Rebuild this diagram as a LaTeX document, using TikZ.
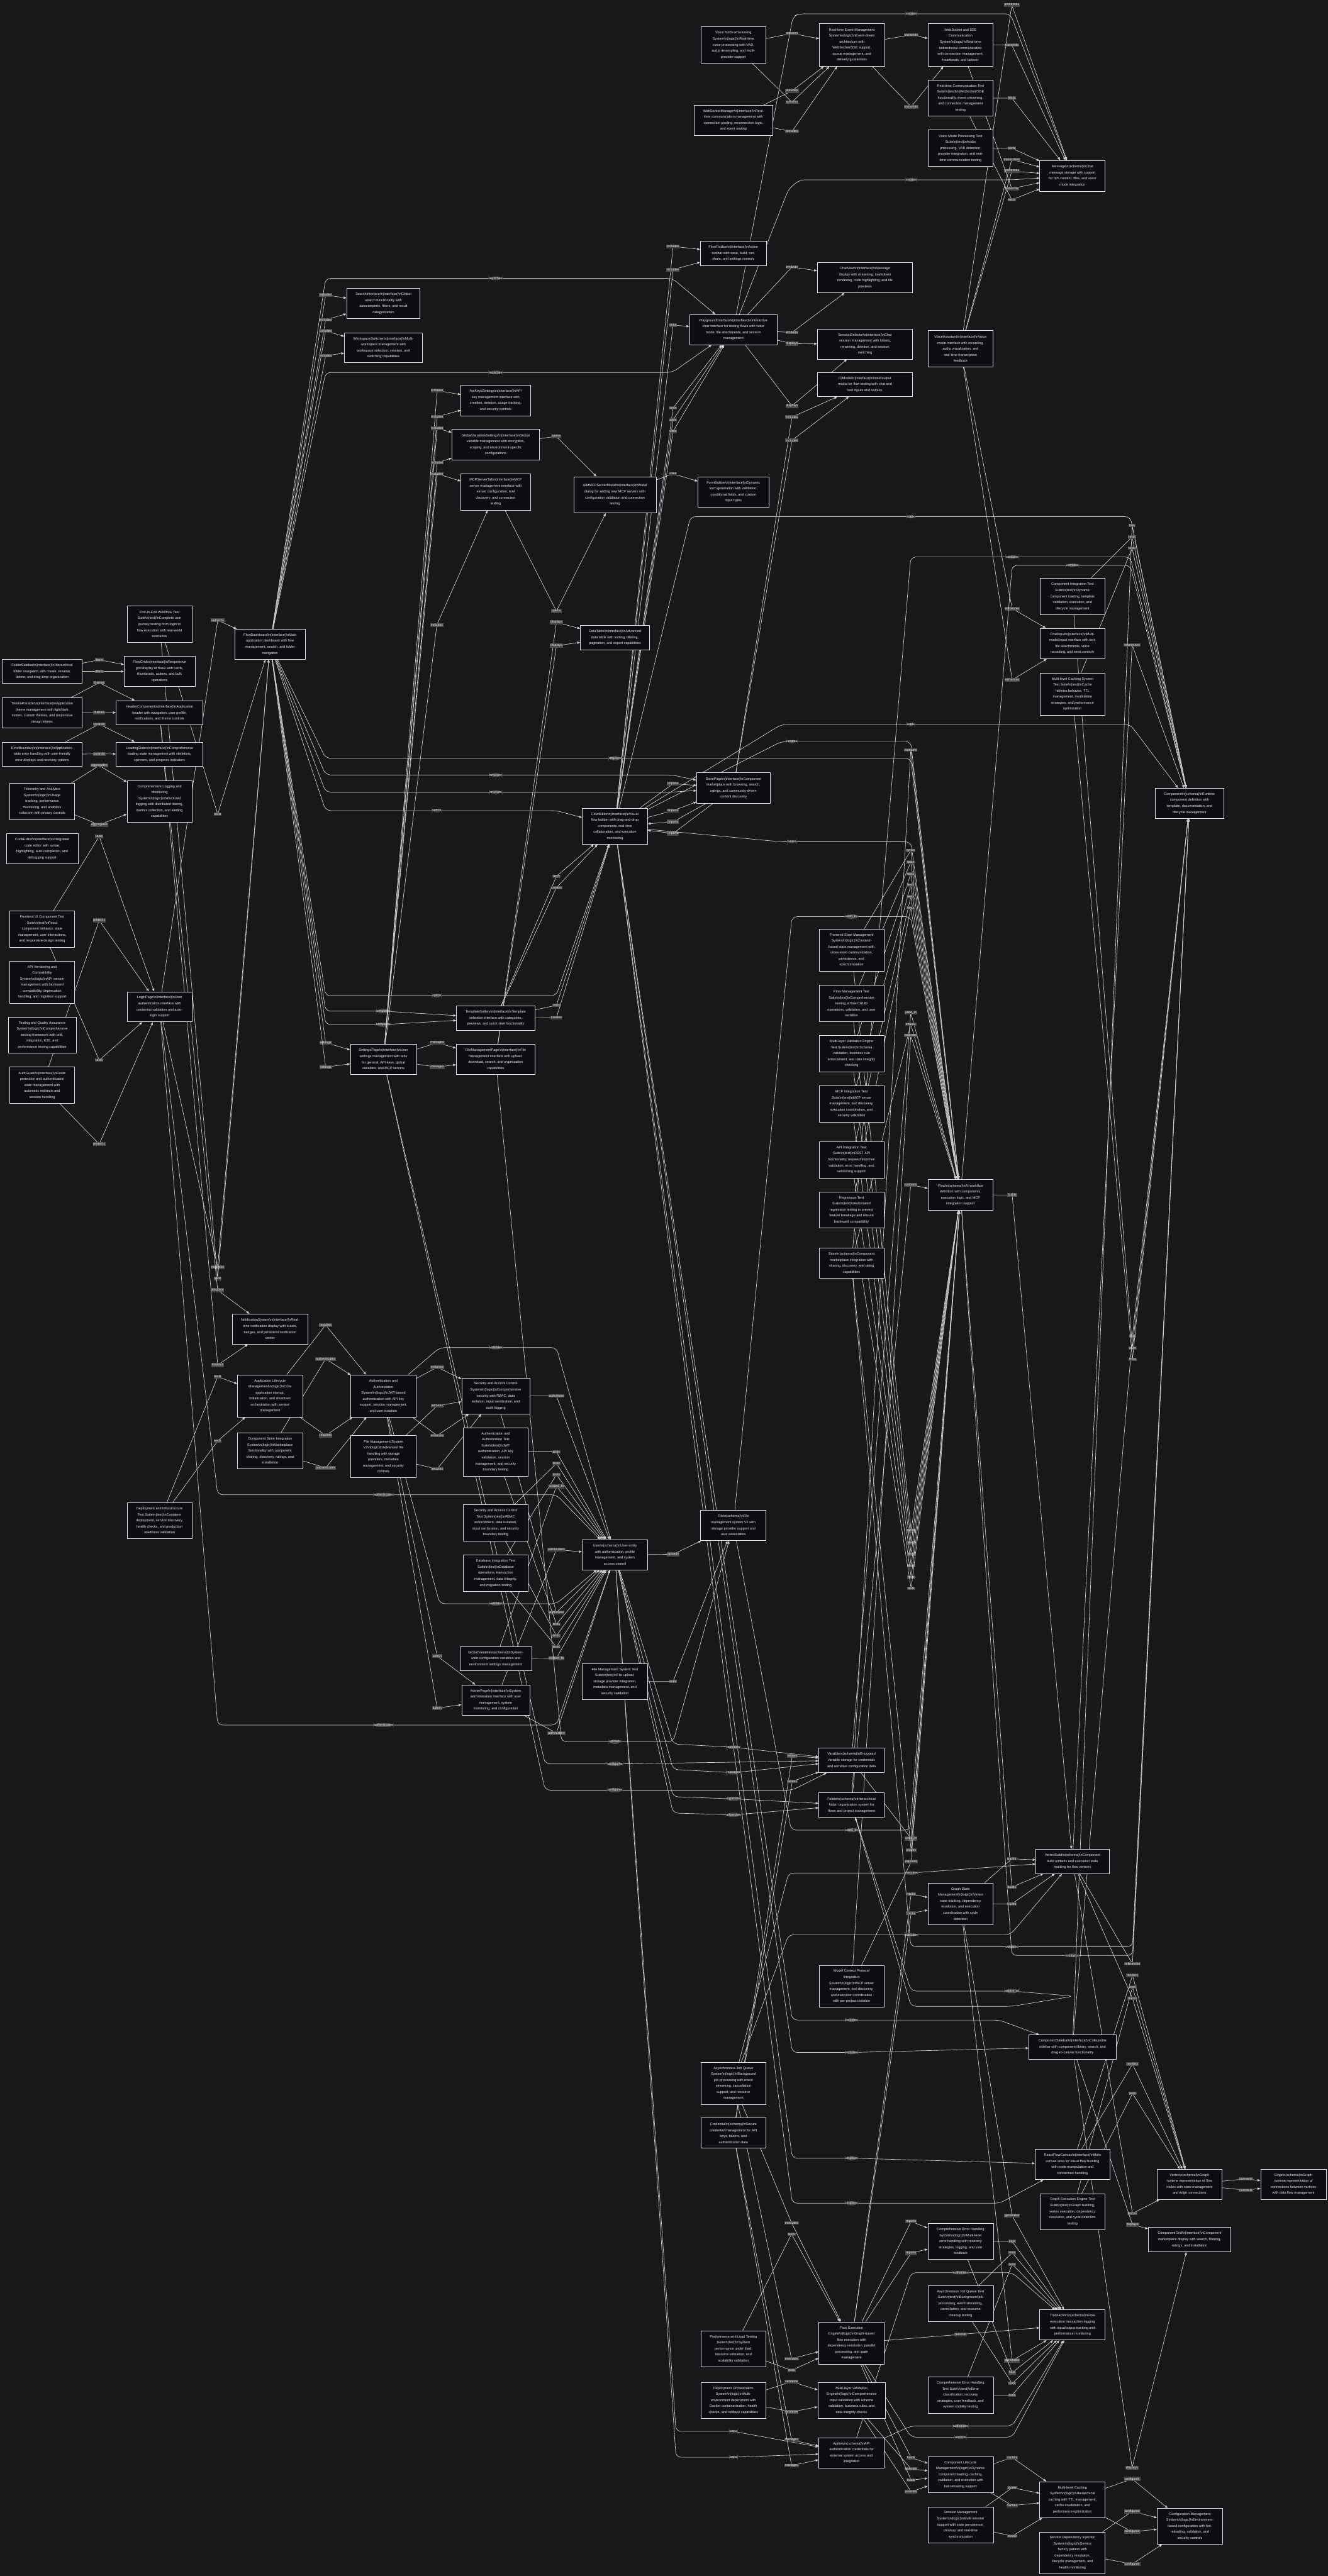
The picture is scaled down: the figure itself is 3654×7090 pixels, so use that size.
\documentclass[tikz,border=0pt]{standalone}
\usepackage{fontspec}
\setmainfont{Liberation Sans}
\usepackage{tikz}
\usetikzlibrary{arrows.meta,calc}

\definecolor{bgcol}{RGB}{24,24,27}
\definecolor{boxfill}{RGB}{12,12,18}
\definecolor{boxline}{RGB}{225,225,225}
\definecolor{boxtext}{RGB}{240,240,240}
\definecolor{linecol}{RGB}{205,205,205}
\definecolor{lblbg}{RGB}{74,74,74}
\definecolor{lbltext}{RGB}{235,235,235}

\newcommand{\bsn}{\textbackslash n}
\newcommand{\boxfont}{\fontsize{9.5}{16.5}\selectfont}
\newcommand{\lblfont}{\fontsize{9}{10}\selectfont}
% edge with its label at a given point
\newcommand{\conn}[4]{\draw[arr] (#1) -- (#3) node[lbl] {#2} -- (#4);}

\pgfdeclarelayer{bg}
\pgfdeclarelayer{edgelayer}
\pgfsetlayers{bg,edgelayer,main}

\begin{document}
\begin{tikzpicture}[x=1pt, y=-1pt,
  box/.style={draw=boxline, line width=1.3pt, fill=boxfill, text=boxtext, align=center, font=\boxfont, inner sep=4pt},
  sz/.style 2 args={minimum width=#1pt, minimum height=#2pt},
  arr/.style={draw=linecol, line width=1.2pt, -{Triangle[length=8pt,width=6.5pt]}},
  rc/.style={rounded corners=14pt},
  lbl/.style={fill=lblbg, text=lbltext, font=\lblfont, inner sep=1.6pt}]

\useasboundingbox (0,0) rectangle (3654,7090);
\begin{pgfonlayer}{bg}
  \fill[bgcol] (0,0) rectangle (3654,7090);
\end{pgfonlayer}

% ---- realtime / voice
\node[box, sz={178}{100}] (voice) at (2018,124) {Voice Mode Processing\\System\bsn(logic)\bsn{}Real-time\\voice processing with VAD,\\audio resampling, and multi-\\provider support};
\node[box, sz={179}{117}] (rtevent) at (2344,124) {Real-time Event Management\\System\bsn(logic)\bsn{}Event-driven\\architecture with\\WebSocket/SSE support,\\queue management, and\\delivery guarantees};
\node[box, sz={179}{117}] (wssse) at (2643,124) {WebSocket and SSE\\Communication\\System\bsn(logic)\bsn{}Real-time\\bidirectional communication\\with connection management,\\heartbeats, and failover};
\node[box, sz={179}{100}] (rtcomtest) at (2643,270) {Real-time Communication Test\\Suite\bsn(test)\bsn{}WebSocket/SSE\\functionality, event streaming,\\and connection management\\testing};
\node[box, sz={179}{100}] (voicetest) at (2643,408) {Voice Mode Processing Test\\Suite\bsn(test)\bsn{}Audio\\processing, VAD detection,\\provider integration, and real-\\time communication testing};
\node[box, sz={215}{83}] (wsmgr) at (2018,331) {WebSocketManager\bsn(interface)\bsn{}Real-\\time communication management with\\connection pooling, reconnection logic,\\and event routing};
\node[box, sz={180}{85}] (message) at (2951,484) {Message\bsn(schema)\bsn{}Chat\\message storage with support\\for rich content, files, and voice\\mode integration};

% ---- upper interface column
\node[box, sz={182}{67}] (flowtoolbar) at (2018,697) {FlowToolbar\bsn(interface)\bsn{}Action\\toolbar with save, build, run,\\share, and settings controls};
\node[box, sz={241}{83}] (playground) at (2018,907) {PlaygroundInterface\bsn(interface)\bsn{}Interactive\\chat interface for testing flows with voice\\mode, file attachments, and session\\management};
\node[box, sz={262}{83}] (chatview) at (2380,764) {ChatView\bsn(interface)\bsn{}Message\\display with streaming, markdown\\rendering, code highlighting, and file\\previews};
\node[box, sz={262}{83}] (sessionsel) at (2380,947) {SessionSelector\bsn(interface)\bsn{}Chat\\session management with history,\\renaming, deletion, and session\\switching};
\node[box, sz={262}{67}] (iomodal) at (2380,1058) {IOModal\bsn(interface)\bsn{}Input/output\\modal for flow testing with chat and\\text inputs and outputs};
\node[box, sz={179}{100}] (voiceassist) at (2643,960) {VoiceAssistant\bsn(interface)\bsn{}Voice\\mode interface with recording,\\audio visualization, and\\real-time transcription\\feedback};
\node[box, sz={202}{83}] (search) at (1055,835) {SearchInterface\bsn(interface)\bsn{}Global\\search functionality with\\autocomplete, filters, and result\\categorization};
\node[box, sz={214}{83}] (workspace) at (1055,957) {WorkspaceSwitcher\bsn(interface)\bsn{}Multi-\\workspace management with\\workspace selection, creation, and\\switching capabilities};
\node[box, sz={191}{84}] (apikeys) at (1364,1102) {ApiKeysSettings\bsn(interface)\bsn{}API\\key management interface with\\creation, deletion, usage tracking,\\and security controls};
\node[box, sz={241}{84}] (globalvars) at (1364,1224) {GlobalVariablesSettings\bsn(interface)\bsn{}Global\\variable management with encryption,\\scoping, and environment-specific\\configurations};
\node[box, sz={191}{100}] (mcptab) at (1364,1354) {MCPServerTab\bsn(interface)\bsn{}MCP\\server management interface with\\server configuration, tool\\discovery, and connection\\testing};
\node[box, sz={227}{100}] (addmcp) at (1692,1362) {AddMCPServerModal\bsn(interface)\bsn{}Modal\\dialog for adding new MCP servers with\\configuration validation and connection\\testing};
\node[box, sz={195}{83}] (formbuilder) at (2018,1354) {FormBuilder\bsn(interface)\bsn{}Dynamic\\form generation with validation,\\conditional fields, and custom\\input types};

% ---- left columns
\node[box, sz={179}{100}] (e2etest) at (439,1718) {End-to-End Workflow Test\\Suite\bsn(test)\bsn{}Complete user\\journey testing from login to\\flow execution with real-world\\scenarios};
\node[box, sz={220}{66}] (foldersidebar) at (116,1848) {FolderSidebar\bsn(interface)\bsn{}Hierarchical\\folder navigation with create, rename,\\delete, and drag-drop organization};
\node[box, sz={195}{83}] (flowgrid) at (439,1848) {FlowGrid\bsn(interface)\bsn{}Responsive\\grid display of flows with cards,\\thumbnails, actions, and bulk\\operations};
\node[box, sz={221}{83}] (themeprovider) at (116,1962) {ThemeProvider\bsn(interface)\bsn{}Application\\theme management with light/dark\\modes, custom themes, and responsive\\design tokens};
\node[box, sz={239}{67}] (header) at (439,1962) {HeaderComponent\bsn(interface)\bsn{}Application\\header with navigation, user profile,\\notifications, and theme controls};
\node[box, sz={219}{67}] (errorboundary) at (116,2076) {ErrorBoundary\bsn(interface)\bsn{}Application-\\wide error handling with user-friendly\\error displays and recovery options};
\node[box, sz={239}{67}] (loading) at (439,2076) {LoadingStates\bsn(interface)\bsn{}Comprehensive\\loading state management with skeletons,\\spinners, and progress indicators};
\node[box, sz={179}{100}] (telemetry) at (116,2206) {Telemetry and Analytics\\System\bsn(logic)\bsn{}Usage\\tracking, performance\\monitoring, and analytics\\collection with privacy controls};
\node[box, sz={179}{115}] (logging) at (439,2206) {Comprehensive Logging and\\Monitoring\\System\bsn(logic)\bsn{}Structured\\logging with distributed tracing,\\metrics collection, and alerting\\capabilities};
\node[box, sz={197}{83}] (codeeditor) at (116,2336) {CodeEditor\bsn(interface)\bsn{}Integrated\\code editor with syntax\\highlighting, auto-completion, and\\debugging support};
\node[box, sz={179}{100}] (frontendtest) at (116,2557) {Frontend UI Component Test\\Suite\bsn(test)\bsn{}React\\component behavior, state\\management, user interactions,\\and responsive design testing};
\node[box, sz={179}{116}] (apiversion) at (116,2703) {API Versioning and\\Compatibility\\System\bsn(logic)\bsn{}API version\\management with backward\\compatibility, deprecation\\handling, and migration support};
\node[box, sz={187}{100}] (testingqa) at (116,2849) {Testing and Quality Assurance\\System\bsn(logic)\bsn{}Comprehensive\\testing framework with unit,\\integration, E2E, and\\performance testing capabilities};
\node[box, sz={179}{100}] (authguard) at (116,2987) {AuthGuard\bsn(interface)\bsn{}Route\\protection and authentication\\state management with\\automatic redirects and\\session handling};
\node[box, sz={179}{83}] (login) at (439,2771) {LoginPage\bsn(interface)\bsn{}User\\authentication interface with\\credential validation and auto-\\login support};
\node[box, sz={193}{83}] (dashboard) at (743,1773) {FlowDashboard\bsn(interface)\bsn{}Main\\application dashboard with flow\\management, search, and folder\\navigation};

% ---- editor / pages
\node[box, sz={190}{68}] (datatable) at (1692,1755) {DataTable\bsn(interface)\bsn{}Advanced\\data table with sorting, filtering,\\pagination, and export capabilities};
\node[box, sz={202}{84}] (storepage) at (2018,2169) {StorePage\bsn(interface)\bsn{}Component\\marketplace with browsing, search,\\ratings, and community-driven\\content discovery};
\node[box, sz={179}{99}] (floweditor) at (1692,2274) {FlowEditor\bsn(interface)\bsn{}Visual\\flow builder with drag-and-drop\\components, real-time\\collaboration, and execution\\monitoring};
\node[box, sz={216}{67}] (templategallery) at (1364,2802) {TemplateGallery\bsn(interface)\bsn{}Template\\selection interface with categories,\\previews, and quick start functionality};
\node[box, sz={182}{83}] (settingspage) at (1055,2916) {SettingsPage\bsn(interface)\bsn{}User\\settings management with tabs\\for general, API keys, global\\variables, and MCP servers};
\node[box, sz={217}{83}] (filemgmtpage) at (1364,2916) {FileManagementPage\bsn(interface)\bsn{}File\\management interface with upload,\\download, search, and organization\\capabilities};

% ---- security / lifecycle
\node[box, sz={207}{83}] (notification) at (743,3658) {NotificationSystem\bsn(interface)\bsn{}Real-\\time notification display with toasts,\\badges, and persistent notification\\center};
\node[box, sz={179}{116}] (applifecycle) at (743,3842) {Application Lifecycle\\Management\bsn(logic)\bsn{}Core\\application startup,\\initialization, and shutdown\\orchestration with service\\management};
\node[box, sz={179}{116}] (authsys) at (1055,3842) {Authentication and\\Authorization\\System\bsn(logic)\bsn{}JWT-based\\authentication with API key\\support, session management,\\and user isolation};
\node[box, sz={187}{99}] (security) at (1364,3842) {Security and Access Control\\System\bsn(logic)\bsn{}Comprehensive\\security with RBAC, data\\isolation, input sanitization, and\\audit logging};
\node[box, sz={179}{100}] (componentstore) at (743,3993) {Component Store Integration\\System\bsn(logic)\bsn{}Marketplace\\functionality with component\\sharing, discovery, ratings, and\\installation};
\node[box, sz={179}{116}] (filemgmtsys) at (1055,4009) {File Management System\\V2\bsn(logic)\bsn{}Advanced file\\handling with storage\\providers, metadata\\management, and security\\controls};
\node[box, sz={179}{133}] (authtest) at (1364,3996) {Authentication and\\Authorization Test\\Suite\bsn(test)\bsn{}JWT\\authentication, API key\\validation, session\\management, and security\\boundary testing};
\node[box, sz={179}{100}] (deploytest) at (439,4185) {Deployment and Infrastructure\\Test Suite\bsn(test)\bsn{}Container\\deployment, service discovery,\\health checks, and production\\readiness validation};
\node[box, sz={179}{100}] (securitytest) at (1364,4191) {Security and Access Control\\Test Suite\bsn(test)\bsn{}RBAC\\enforcement, data isolation,\\input sanitization, and security\\boundary testing};
\node[box, sz={179}{100}] (dbtest) at (1364,4330) {Database Integration Test\\Suite\bsn(test)\bsn{}Database\\operations, transaction\\management, data integrity,\\and migration testing};
\node[box, sz={197}{67}] (globalvariable) at (1364,4565) {GlobalVariable\bsn(schema)\bsn{}System-\\wide configuration variables and\\environment settings management};
\node[box, sz={187}{83}] (adminpage) at (1364,4679) {AdminPage\bsn(interface)\bsn{}System\\administration interface with user\\management, system\\monitoring, and configuration};
\node[box, sz={180}{83}] (user) at (1692,4279) {User\bsn(schema)\bsn{}User entity\\with authentication, profile\\management, and system\\access control};
\node[box, sz={180}{84}] (file) at (2018,4198) {File\bsn(schema)\bsn{}File\\management system V2 with\\storage provider support and\\user association};
\node[box, sz={180}{99}] (filetest) at (1692,4628) {File Management System Test\\Suite\bsn(test)\bsn{}File upload,\\storage provider integration,\\metadata management, and\\security validation};
\node[box, sz={180}{67}] (variable) at (2343,4845) {Variable\bsn(schema)\bsn{}Encrypted\\variable storage for credentials\\and sensitive configuration data};
\node[box, sz={180}{67}] (folder) at (2343,4968) {Folder\bsn(schema)\bsn{}Hierarchical\\folder organization system for\\flows and project management};

% ---- component / flow column
\node[box, sz={179}{100}] (comptest) at (2951,1642) {Component Integration Test\\Suite\bsn(test)\bsn{}Dynamic\\component loading, template\\validation, execution, and\\lifecycle management};
\node[box, sz={179}{84}] (chatinput) at (2951,1771) {ChatInput\bsn(interface)\bsn{}Multi-\\modal input interface with text,\\file attachments, voice\\recording, and send controls};
\node[box, sz={179}{116}] (cachetest) at (2951,1910) {Multi-level Caching System\\Test Suite\bsn(test)\bsn{}Cache\\hit/miss behavior, TTL\\management, invalidation\\strategies, and performance\\optimization};
\node[box, sz={187}{83}] (component) at (3273,2211) {Component\bsn(schema)\bsn{}Runtime\\component definition with\\template, documentation, and\\lifecycle management};
\node[box, sz={179}{116}] (statemgmt) at (2343,2615) {Frontend State Management\\System\bsn(logic)\bsn{}Zustand-\\based state management with\\cross-store communication,\\persistence, and\\synchronization};
\node[box, sz={179}{100}] (flowmgmttest) at (2343,2762) {Flow Management Test\\Suite\bsn(test)\bsn{}Comprehensive\\testing of flow CRUD\\operations, validation, and user\\isolation};
\node[box, sz={179}{100}] (validtest) at (2343,2900) {Multi-layer Validation Engine\\Test Suite\bsn(test)\bsn{}Schema\\validation, business rule\\enforcement, and data integrity\\checking};
\node[box, sz={179}{100}] (mcptest) at (2343,3038) {MCP Integration Test\\Suite\bsn(test)\bsn{}MCP server\\management, tool discovery,\\execution coordination, and\\security validation};
\node[box, sz={179}{100}] (apitest) at (2343,3192) {API Integration Test\\Suite\bsn(test)\bsn{}REST API\\functionality, request/response\\validation, error handling, and\\versioning support};
\node[box, sz={179}{100}] (regtest) at (2343,3330) {Regression Test\\Suite\bsn(test)\bsn{}Automated\\regression testing to prevent\\feature breakage and ensure\\backward compatibility};
\node[box, sz={179}{83}] (store) at (2343,3477) {Store\bsn(schema)\bsn{}Component\\marketplace integration with\\sharing, discovery, and rating\\capabilities};
\node[box, sz={179}{85}] (flow) at (2643,3289) {Flow\bsn(schema)\bsn{}AI workflow\\definition with components,\\execution logic, and MCP\\integration support};

% ---- graph / execution
\node[box, sz={202}{67}] (vertexbuild) at (2951,5123) {VertexBuild\bsn(schema)\bsn{}Component\\build artifacts and execution state\\tracking for flow vertices};
\node[box, sz={179}{115}] (graphstate) at (2643,5240) {Graph State\\Management\bsn(logic)\bsn{}Vertex\\state tracking, dependency\\resolution, and execution\\coordination with cycle\\detection};
\node[box, sz={179}{114}] (mcpsys) at (2343,5467) {Model Context Protocol\\Integration\\System\bsn(logic)\bsn{}MCP server\\management, tool discovery,\\and execution coordination\\with per-project isolation};
\node[box, sz={240}{66}] (compsidebar) at (2951,5634) {ComponentSidebar\bsn(interface)\bsn{}Collapsible\\sidebar with component library, search, and\\drag-to-canvas functionality};
\node[box, sz={205}{84}] (reactflow) at (2951,5957) {ReactFlowCanvas\bsn(interface)\bsn{}Main\\canvas area for visual flow building\\with node manipulation and\\connection handling};
\node[box, sz={179}{83}] (vertex) at (3273,6012) {Vertex\bsn(schema)\bsn{}Graph\\runtime representation of flow\\nodes with state management\\and edge connections};
\node[box, sz={180}{83}] (edge) at (3559,6012) {Edge\bsn(schema)\bsn{}Graph\\runtime representation of\\connections between vertices\\with data flow management};
\node[box, sz={179}{99}] (graphtest) at (2951,6087) {Graph Execution Engine Test\\Suite\bsn(test)\bsn{}Graph building,\\vertex execution, dependency\\resolution, and cycle detection\\testing};
\node[box, sz={227}{67}] (compgrid) at (3273,6164) {ComponentGrid\bsn(interface)\bsn{}Component\\marketplace display with search, filtering,\\ratings, and installation};
\node[box, sz={179}{116}] (asyncjob) at (2018,5734) {Asynchronous Job Queue\\System\bsn(logic)\bsn{}Background\\job processing with event\\streaming, cancellation\\support, and resource\\management};
\node[box, sz={179}{83}] (credential) at (2018,5871) {Credential\bsn(schema)\bsn{}Secure\\credential management for API\\keys, tokens, and\\authentication data};
\node[box, sz={180}{100}] (errhandling) at (2643,6169) {Comprehensive Error Handling\\System\bsn(logic)\bsn{}Multi-level\\error handling with recovery\\strategies, logging, and user\\feedback};
\node[box, sz={180}{99}] (asyncjobtest) at (2643,6340) {Asynchronous Job Queue Test\\Suite\bsn(test)\bsn{}Background job\\processing, event streaming,\\cancellation, and resource\\cleanup testing};
\node[box, sz={180}{83}] (transaction) at (2951,6399) {Transaction\bsn(schema)\bsn{}Flow\\execution transaction logging\\with input/output tracking and\\performance monitoring};
\node[box, sz={179}{100}] (perftest) at (2018,6465) {Performance and Load Testing\\Suite\bsn(test)\bsn{}System\\performance under load,\\resource utilization, and\\scalability validation};
\node[box, sz={180}{117}] (flowexec) at (2343,6449) {Flow Execution\\Engine\bsn(logic)\bsn{}Graph-based\\flow execution with\\dependency resolution, parallel\\processing, and state\\management};
\node[box, sz={180}{100}] (errtest) at (2643,6592) {Comprehensive Error Handling\\Test Suite\bsn(test)\bsn{}Error\\classification, recovery\\strategies, user feedback, and\\system stability testing};
\node[box, sz={179}{99}] (deployorch) at (2018,6607) {Deployment Orchestration\\System\bsn(logic)\bsn{}Multi-\\environment deployment with\\Docker containerization, health\\checks, and rollback capabilities};
\node[box, sz={185}{99}] (validengine) at (2343,6607) {Multi-layer Validation\\Engine\bsn(logic)\bsn{}Comprehensive\\input validation with schema\\validation, business rules, and\\data integrity checks};
\node[box, sz={180}{83}] (apikey) at (2343,6751) {ApiKey\bsn(schema)\bsn{}API\\authentication credentials for\\external system access and\\integration};
\node[box, sz={180}{99}] (complifecycle) at (2643,6811) {Component Lifecycle\\Management\bsn(logic)\bsn{}Dynamic\\component loading, caching,\\validation, and execution with\\hot-reloading support};
\node[box, sz={180}{99}] (caching) at (2951,6880) {Multi-level Caching\\System\bsn(logic)\bsn{}Hierarchical\\caching with TTL management,\\cache invalidation, and\\performance optimization};
\node[box, sz={180}{99}] (session) at (2643,6949) {Session Management\\System\bsn(logic)\bsn{}Multi-session\\support with state persistence,\\cleanup, and real-time\\synchronization};
\node[box, sz={180}{114}] (servicedi) at (2951,7026) {Service Dependency Injection\\System\bsn(logic)\bsn{}Service\\factory pattern with\\dependency resolution,\\lifecycle management, and\\health monitoring};
\node[box, sz={180}{99}] (config) at (3274,6953) {Configuration Management\\System\bsn(logic)\bsn{}Environment-\\based configuration with hot-\\reloading, validation, and\\security controls};

\begin{pgfonlayer}{edgelayer}
% left side
\conn{foldersidebar}{filters}{273,1816}{flowgrid}
\conn{foldersidebar}{filters}{273,1848}{flowgrid}
\conn{themeprovider}{themes}{273,1879}{header}
\conn{themeprovider}{themes}{273,1961}{header}
\conn{errorboundary}{controls}{273,1993}{loading}
\conn{errorboundary}{controls}{273,2075}{loading}
\conn{telemetry}{aggregates}{273,2107}{logging}
\conn{telemetry}{aggregates}{273,2270}{logging}
\conn{frontendtest}{tests}{273,2302}{login}
\conn{authguard}{protects}{273,2533}{login}
\conn{frontendtest}{tests}{273,2918}{login}
\conn{authguard}{protects}{273,3149}{login}
\conn{login}{redirects}{599,1707}{dashboard}
\conn{e2etest}{tests}{599,2241}{dashboard}
\conn{login}{redirects}{599,3488}{dashboard}
\conn{e2etest}{tests}{599,3519}{dashboard}
\conn{header}{displays}{599,3551}{notification}
\conn{header}{displays}{599,3757}{notification}
\conn{deploytest}{tests}{599,3789}{applifecycle}
\conn{deploytest}{tests}{599,3966}{applifecycle}

% dashboard
\conn{dashboard}{includes}{896,812}{search}
\conn{dashboard}{includes}{896,880}{search}
\conn{dashboard}{includes}{896,911}{workspace}
\conn{dashboard}{includes}{896,979}{workspace}
\draw[arr, rc] (dashboard) -- (896,766) -- (1364,766) node[lbl] {launches} -- (1850,766) -- (playground);
\draw[arr, rc] (dashboard) -- (896,1025) -- (1364,1025) node[lbl] {launches} -- (1850,1025) -- (playground);
\draw[arr, rc] (dashboard) -- (896,2087) -- (1692,2087) node[lbl] {displays} -- (2506,2087) -- (flow);
\draw[arr, rc] (dashboard) -- (896,2133) -- (1364,2133) node[lbl] {browses} -- (1850,2133) -- (storepage);
\draw[arr, rc] (dashboard) -- (896,2180) -- (1364,2180) node[lbl] {browses} -- (1850,2180) -- (storepage);
\draw[arr, rc] (dashboard) -- (896,2231) -- (1202,2231) node[lbl] {opens} -- (1530,2231) -- (floweditor);
\draw[arr, rc] (dashboard) -- (896,2741) -- (1202,2741) node[lbl] {opens} -- (1530,2741) -- (floweditor);
\draw[arr, rc] (dashboard) -- (896,2783) -- (1055,2783) node[lbl] {templates} -- (templategallery);
\draw[arr, rc] (dashboard) -- (896,2820) -- (1055,2820) node[lbl] {templates} -- (templategallery);
\conn{dashboard}{settings}{896,2870}{settingspage}
\conn{dashboard}{settings}{896,2937}{settingspage}

% settings and editor
\conn{authsys}{admin}{1203,4558}{adminpage}
\conn{authsys}{admin}{1203,4701}{adminpage}
\conn{settingspage}{manages}{1203,2870}{filemgmtpage}
\conn{settingspage}{manages}{1203,2937}{filemgmtpage}
\conn{settingspage}{includes}{1203,1075}{apikeys}
\conn{settingspage}{includes}{1203,1147}{apikeys}
\conn{settingspage}{includes}{1203,1179}{globalvars}
\conn{settingspage}{includes}{1203,1273}{globalvars}
\conn{settingspage}{includes}{1203,1304}{mcptab}
\conn{settingspage}{includes}{1202,1720}{mcptab}
\conn{globalvars}{opens}{1530,1201}{addmcp}
\conn{mcptab}{opens}{1531,1682}{addmcp}
\conn{addmcp}{uses}{1852,1304}{formbuilder}
\conn{filemgmtpage}{displays}{1531,1713}{datatable}
\conn{filemgmtpage}{displays}{1531,1777}{datatable}
\conn{templategallery}{uses}{1531,2412}{floweditor}
\conn{templategallery}{creates}{1531,2443}{floweditor}
\conn{templategallery}{uses}{1531,2767}{floweditor}
\conn{templategallery}{creates}{1531,2801}{floweditor}
\conn{floweditor}{includes}{1852,678}{flowtoolbar}
\conn{floweditor}{includes}{1852,742}{flowtoolbar}
\conn{floweditor}{tests}{1852,895}{playground}
\conn{floweditor}{tests}{1852,1123}{playground}
\conn{floweditor}{edits}{1852,1155}{playground}
\conn{floweditor}{edits}{1852,1187}{playground}
\conn{storepage}{includes}{2179,1148}{iomodal}
\conn{storepage}{includes}{2179,1212}{iomodal}
\conn{floweditor}{imports}{1852,2157}{storepage}
\conn{floweditor}{imports}{1852,2231}{storepage}
\conn{storepage}{imports}{1852,2262}{floweditor}
\conn{storepage}{imports}{1852,2294}{floweditor}
\draw[arr, rc] (floweditor) -- (1900,1422) -- (2506,1422) node[lbl] {loads} -- (3110,1422) -- (component);
\draw[arr, rc] (floweditor) -- (2150,1994) -- (2506,1994) node[lbl] {loads} -- (3110,1994) -- (component);
\draw[arr, rc] (floweditor) -- (2150,2041) -- (2179,2041) node[lbl] {creates} -- (2506,2041) -- (flow);
\draw[arr, rc] (floweditor) -- (2150,2317) -- (2179,2317) node[lbl] {saves} -- (2506,2317) -- (flow);
\draw[arr, rc] (floweditor) -- (2180,5560) -- (2343,5560) node[lbl] {includes} -- (2750,5560) -- (compsidebar);
\draw[arr, rc] (floweditor) -- (2180,5649) -- (2343,5649) node[lbl] {includes} -- (compsidebar);
\draw[arr, rc] (floweditor) -- (2180,5940) -- (2343,5940) node[lbl] {displays} -- (reactflow);
\draw[arr, rc] (floweditor) -- (2180,6064) -- (2343,6064) node[lbl] {displays} -- (2750,6064) -- (reactflow);

% realtime cluster
\conn{voice}{streams}{2179,92}{rtevent}
\conn{voice}{streams}{2179,281}{rtevent}
\conn{wsmgr}{provides}{2179,250}{rtevent}
\conn{wsmgr}{provides}{2179,362}{rtevent}
\conn{rtevent}{transmits}{2507,96}{wssse}
\conn{rtevent}{transmits}{2507,294}{wssse}
\conn{voiceassist}{processes}{2784,14}{message}
\conn{wssse}{transmits}{2784,124}{message}
\conn{rtcomtest}{tests}{2784,270}{message}
\conn{voicetest}{tests}{2784,408}{message}
\conn{voiceassist}{transcribes}{2784,439}{message}
\conn{voiceassist}{processes}{2784,471}{message}
\conn{wssse}{transmits}{2784,519}{message}
\conn{rtcomtest}{tests}{2784,550}{message}
\draw[arr, rc] (playground) -- (2182,45) -- (2200,38) -- (2507,38) node[lbl] {creates} -- (2780,38) -- (message);
\draw[arr, rc] (playground) -- (2170,520) -- (2200,495) -- (2507,495) node[lbl] {creates} -- (2784,495) -- (message);
\conn{playground}{embeds}{2179,735}{chatview}
\conn{playground}{embeds}{2179,915}{chatview}
\conn{playground}{displays}{2179,946}{sessionsel}
\conn{playground}{displays}{2179,1117}{sessionsel}
\conn{voiceassist}{enhances}{2785,1675}{chatinput}
\conn{voiceassist}{enhances}{2785,1871}{chatinput}

% component
\conn{compsidebar}{lists}{3115,1446}{component}
\conn{comptest}{tests}{3115,1478}{component}
\conn{cachetest}{tests}{3115,1509}{component}
\conn{vertexbuild}{references}{3115,1775}{component}
\conn{compsidebar}{lists}{3116,3677}{component}
\conn{comptest}{tests}{3116,3710}{component}
\conn{cachetest}{tests}{3116,3741}{component}
\conn{vertexbuild}{references}{3116,5405}{component}
\draw[arr, rc] (store) -- (2506,1533) -- (2785,1533) node[lbl] {contains} -- (3110,1533) -- (component);
\draw[arr, rc] (flow) -- (2785,1556) -- (2951,1556) node[lbl] {contains} -- (3110,1556) -- (component);
\draw[arr, rc] (store) -- (2506,5358) -- (2784,5358) node[lbl] {contains} -- (3116,5358) -- (component);
\draw[arr, rc] (flow) -- (2784,5382) -- (2950,5382) node[lbl] {contains} -- (3116,5382) -- (component);

% flow
\conn{statemgmt}{syncs}{2506,2341}{flow}
\conn{flowmgmttest}{tests}{2506,2373}{flow}
\conn{validtest}{tests}{2506,2405}{flow}
\conn{mcptest}{tests}{2506,2436}{flow}
\conn{apitest}{tests}{2506,2468}{flow}
\conn{regtest}{tests}{2506,2499}{flow}
\conn{statemgmt}{syncs}{2507,4213}{flow}
\conn{flowmgmttest}{tests}{2507,4246}{flow}
\conn{validtest}{tests}{2507,4277}{flow}
\conn{mcptest}{tests}{2507,4309}{flow}
\conn{apitest}{tests}{2507,4341}{flow}
\conn{regtest}{tests}{2507,4372}{flow}
\draw[arr, rc] (file) -- (2179,2523) -- (2343,2523) node[lbl] {used\_by} -- (2506,2523) -- (flow);
\draw[arr, rc] (file) -- (2177,5037) -- (2344,5037) node[lbl] {used\_by} -- (2504,5037) -- (flow);
\conn{variable}{used\_in}{2506,2787}{flow}
\conn{store}{shares}{2506,2819}{flow}
\conn{mcpsys}{exposes}{2506,2850}{flow}
\conn{variable}{used\_in}{2507,5060}{flow}
\conn{store}{shares}{2507,5092}{flow}
\conn{mcpsys}{exposes}{2507,5124}{flow}
\conn{folder}{contains}{2506,2064}{flow}
\conn{folder}{contains}{2506,3261}{flow}
\conn{flow}{builds}{2785,3289}{vertexbuild}
\conn{flow}{builds}{2784,5194}{vertexbuild}

% security
\conn{applifecycle}{requires}{896,3647}{authsys}
\conn{applifecycle}{requires}{896,3951}{authsys}
\conn{componentstore}{authenticates}{896,3740}{authsys}
\conn{componentstore}{authenticates}{896,4040}{authsys}
\conn{authsys}{enforces}{1203,3763}{security}
\conn{authsys}{enforces}{1203,3951}{security}
\conn{filemgmtsys}{secures}{1203,3869}{security}
\conn{filemgmtsys}{secures}{1203,4043}{security}
\draw[arr, rc] (authsys) -- (1210,3709) -- (1365,3709) node[lbl] {validates} -- (1531,3709) -- (user);
\draw[arr, rc] (authsys) -- (1210,4414) -- (1365,4414) node[lbl] {validates} -- (1531,4414) -- (user);
\conn{security}{authorizes}{1531,3842}{user}
\conn{security}{authorizes}{1531,4438}{user}
\conn{authtest}{tests}{1531,3996}{user}
\conn{securitytest}{tests}{1531,4028}{user}
\conn{dbtest}{tests}{1531,4059}{user}
\conn{globalvariable}{scoped\_to}{1531,4091}{user}
\conn{adminpage}{administers}{1531,4265}{user}
\conn{authtest}{tests}{1531,4470}{user}
\conn{securitytest}{tests}{1531,4502}{user}
\conn{dbtest}{tests}{1531,4533}{user}
\conn{globalvariable}{scoped\_to}{1531,4564}{user}
\conn{adminpage}{administers}{1531,4770}{user}
\draw[arr, rc] (login) -- (599,4114) -- (1055,4114) node[lbl] {authenticates} -- (1531,4114) -- (user);
\draw[arr, rc] (login) -- (599,4748) -- (1055,4748) node[lbl] {authenticates} -- (1531,4748) -- (user);

% user and files
\conn{user}{uploads}{1852,4278}{file}
\draw[arr, rc] (filemgmtpage) -- (1545,4794) -- (1692,4794) node[lbl] {uploads} -- (1852,4794) -- (file);
\conn{filetest}{tests}{1852,4628}{file}
\draw[arr, rc] (user) -- (1852,4800) -- (2018,4809) node[lbl] {manages} -- (variable);
\draw[arr, rc] (user) -- (1852,4870) -- (2018,4879) node[lbl] {manages} -- (variable);
\draw[arr, rc] (user) -- (1852,4945) -- (2018,4951) node[lbl] {organizes} -- (folder);
\draw[arr, rc] (user) -- (1852,4990) -- (2018,4995) node[lbl] {organizes} -- (folder);
\draw[arr, rc] (settingspage) -- (1500,4855) -- (1692,4855) node[lbl] {configures} -- (variable);
\draw[arr, rc] (settingspage) -- (1500,4927) -- (1692,4927) node[lbl] {configures} -- (2180,4927) -- (variable);
\conn{credential}{relates}{2180,4833}{variable}
\conn{credential}{relates}{2180,4903}{variable}
\draw[arr, rc] (folder) -- (2507,5480) -- (2784,5480) node[lbl] {parent\_of} -- (2954,5494) -- (2784,5522) -- (2507,5522) -- (folder);

% graph
\conn{graphstate}{tracks}{2784,5116}{vertexbuild}
\conn{graphstate}{tracks}{2784,5240}{vertexbuild}
\draw[arr, rc] (asyncjob) -- (2170,5155) -- (2507,5155) node[lbl] {executes} -- (vertexbuild);
\draw[arr, rc] (asyncjob) -- (2170,5325) -- (2507,5325) node[lbl] {executes} -- (2780,5325) -- (vertexbuild);
\conn{flowexec}{tracks}{2507,5213}{graphstate}
\conn{flowexec}{tracks}{2507,5266}{graphstate}
\conn{reactflow}{renders}{3116,5437}{vertex}
\conn{graphtest}{tests}{3116,5469}{vertex}
\conn{vertexbuild}{tracks}{3116,5500}{vertex}
\conn{reactflow}{renders}{3116,5681}{vertex}
\conn{graphtest}{tests}{3116,5762}{vertex}
\conn{vertexbuild}{tracks}{3116,6092}{vertex}
\conn{vertex}{connects}{3428,5997}{edge}
\conn{vertex}{connects}{3428,6028}{edge}
\conn{compsidebar}{displays}{3116,6123}{compgrid}
\conn{compsidebar}{displays}{3115,6792}{compgrid}

% execution
\conn{graphstate}{generates}{2785,6098}{transaction}
\conn{graphstate}{generates}{2785,6497}{transaction}
\conn{errhandling}{logs}{2785,6169}{transaction}
\conn{errhandling}{logs}{2785,6530}{transaction}
\conn{asyncjobtest}{tests}{2785,6200}{transaction}
\conn{asyncjobtest}{tests}{2785,6560}{transaction}
\conn{errtest}{tests}{2785,6232}{transaction}
\conn{errtest}{tests}{2785,6592}{transaction}
\conn{flowexec}{reports}{2507,6114}{errhandling}
\conn{flowexec}{reports}{2507,6201}{errhandling}
\draw[arr, rc] (apikey) -- (2507,6255) -- (2643,6255) node[lbl] {authorizes} -- (2785,6255) -- (transaction);
\draw[arr, rc] (apikey) -- (2507,6677) -- (2643,6677) node[lbl] {authorizes} -- (2785,6677) -- (transaction);
\conn{flowexec}{records}{2643,6425}{transaction}
\draw[arr, rc] (flowexec) -- (2507,6708) -- (2643,6708) node[lbl] {records} -- (2785,6708) -- (transaction);
\conn{asyncjob}{executes}{2178,6118}{flowexec}
\conn{perftest}{tests}{2178,6149}{flowexec}
\conn{asyncjob}{executes}{2178,6492}{flowexec}
\conn{perftest}{tests}{2178,6524}{flowexec}
\conn{deployorch}{validates}{2178,6555}{validengine}
\conn{deployorch}{validates}{2178,6638}{validengine}
\draw[arr, rc] (user) -- (1860,6692) -- (2018,6692) node[lbl] {owns} -- (apikey);
\draw[arr, rc] (user) -- (1860,6763) -- (2018,6763) node[lbl] {owns} -- (apikey);
\conn{credential}{manages}{2178,6716}{apikey}
\conn{credential}{manages}{2178,6786}{apikey}
\conn{flowexec}{loads}{2507,6764}{complifecycle}
\conn{validengine}{extends}{2507,6795}{complifecycle}
\conn{flowexec}{loads}{2507,6826}{complifecycle}
\conn{validengine}{extends}{2507,6858}{complifecycle}
\conn{complifecycle}{caches}{2785,6764}{caching}
\conn{complifecycle}{caches}{2785,6896}{caching}
\conn{session}{stores}{2785,6847}{caching}
\conn{session}{stores}{2785,6980}{caching}
\conn{caching}{configures}{3115,6823}{config}
\conn{servicedi}{configures}{3115,6912}{config}
\conn{caching}{configures}{3115,6968}{config}
\conn{servicedi}{configures}{3115,7057}{config}
\end{pgfonlayer}
\end{tikzpicture}
\end{document}
